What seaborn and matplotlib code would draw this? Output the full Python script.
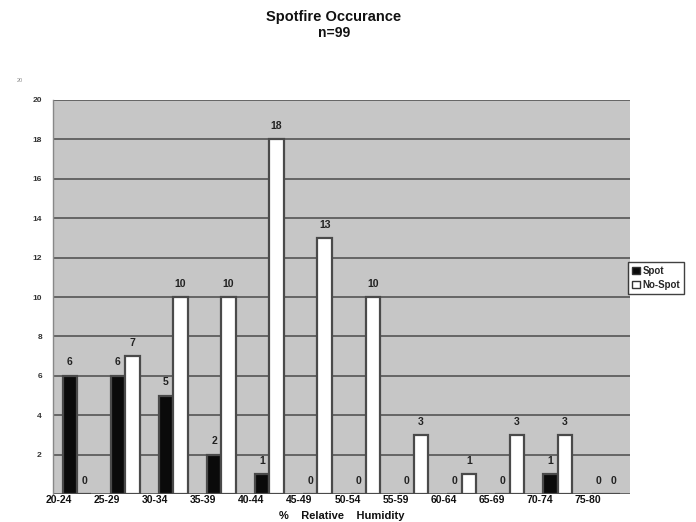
import matplotlib
matplotlib.use("Agg")
import matplotlib.pyplot as plt
import matplotlib.transforms as mtransforms
from matplotlib.patches import Patch
import seaborn as sns
import pandas as pd

categories = ["20-24", "25-29", "30-34", "35-39", "40-44", "45-49",
              "50-54", "55-59", "60-64", "65-69", "70-74", "75-80"]
spot = [6, 6, 5, 2, 1, 0, 0, 0, 0, 0, 1, 0]
no_spot = [0, 7, 10, 10, 18, 13, 10, 3, 1, 3, 3, 0]
series = ["Spot", "No-Spot"]
y_ticks = [0, 2, 4, 6, 8, 10, 12, 14, 16, 18, 20]

df = pd.DataFrame({
    "Humidity": categories * 2,
    "Count": spot + no_spot,
    "Series": [series[0]] * len(categories) + [series[1]] * len(categories),
})

sns.set_style("white")
plt.rcParams['font.family'] = ['Liberation Sans', 'DejaVu Sans']

fig = plt.figure(figsize=(6.96, 5.22), dpi=100)
ax = fig.add_axes([53 / 696, 1 - 494 / 522, (630 - 53) / 696, (494 - 100) / 522])
ax.set_facecolor("#c6c6c6")

sns.barplot(data=df, x="Humidity", y="Count", hue="Series", order=categories,
            hue_order=series, palette={"Spot": "#0a0a0a", "No-Spot": "#ffffff"},
            width=0.6, edgecolor="#4a4a4a", linewidth=1.6, ax=ax, legend=False,
            zorder=3)

for cont in ax.containers:
    ax.bar_label(cont, fmt="%d", padding=6, fontsize=7.5, fontweight="bold",
                 color="#222222")

ax.set_ylim(0, 20)
ax.set_xlim(-0.5, len(categories) - 0.5)
ax.set_yticks(y_ticks)
ax.set_yticklabels([""] + [str(t) for t in y_ticks[1:]], fontsize=6,
                   fontweight="bold", color="#333333")
ax.yaxis.grid(True, color="#555555", linewidth=1.2, zorder=0)
ax.set_axisbelow(True)
ax.tick_params(axis="y", length=3, direction="in", color="#555555", pad=8)
ax.tick_params(axis="x", length=0, pad=1)
ax.set_xticks(range(len(categories)))
ax.set_xticklabels(categories, fontsize=7.5, fontweight="bold", color="#111111")
offset = mtransforms.ScaledTranslation(-18 / 100, 0, fig.dpi_scale_trans)
for lbl in ax.get_xticklabels():
    lbl.set_transform(lbl.get_transform() + offset)

for side in ["top", "right", "bottom"]:
    ax.spines[side].set_visible(False)
ax.spines["left"].set_color("#888888")
ax.spines["left"].set_linewidth(1.0)

ax.set_xlabel("%    Relative    Humidity", fontsize=8, fontweight="bold",
              labelpad=4, color="#111111")
ax.set_ylabel("")

fig.text(334 / 696, 1 - 17 / 522, "Spotfire Occurance", ha="center", va="center",
         fontsize=10.5, fontweight="bold", color="#111111")
fig.text(334 / 696, 1 - 33 / 522, "n=99", ha="center", va="center",
         fontsize=10, fontweight="bold", color="#111111")
fig.text(20 / 696, 1 - 80 / 522, "20", ha="center", va="center",
         fontsize=4, color="#888888")

handles = [Patch(facecolor="#0a0a0a", edgecolor="#333333", label="Spot"),
           Patch(facecolor="#ffffff", edgecolor="#333333", label="No-Spot")]
leg = fig.legend(handles=handles, loc="upper left",
                 bbox_to_anchor=(628 / 696, 1 - 262 / 522), fontsize=7,
                 frameon=True, fancybox=False, handlelength=0.8,
                 handleheight=0.8, handletextpad=0.3, borderpad=0.4,
                 labelspacing=0.4, borderaxespad=0)
leg.get_frame().set_edgecolor("#111111")
leg.get_frame().set_linewidth(1.0)
for t in leg.get_texts():
    t.set_fontweight("bold")

fig.savefig("out.png", dpi=100)
